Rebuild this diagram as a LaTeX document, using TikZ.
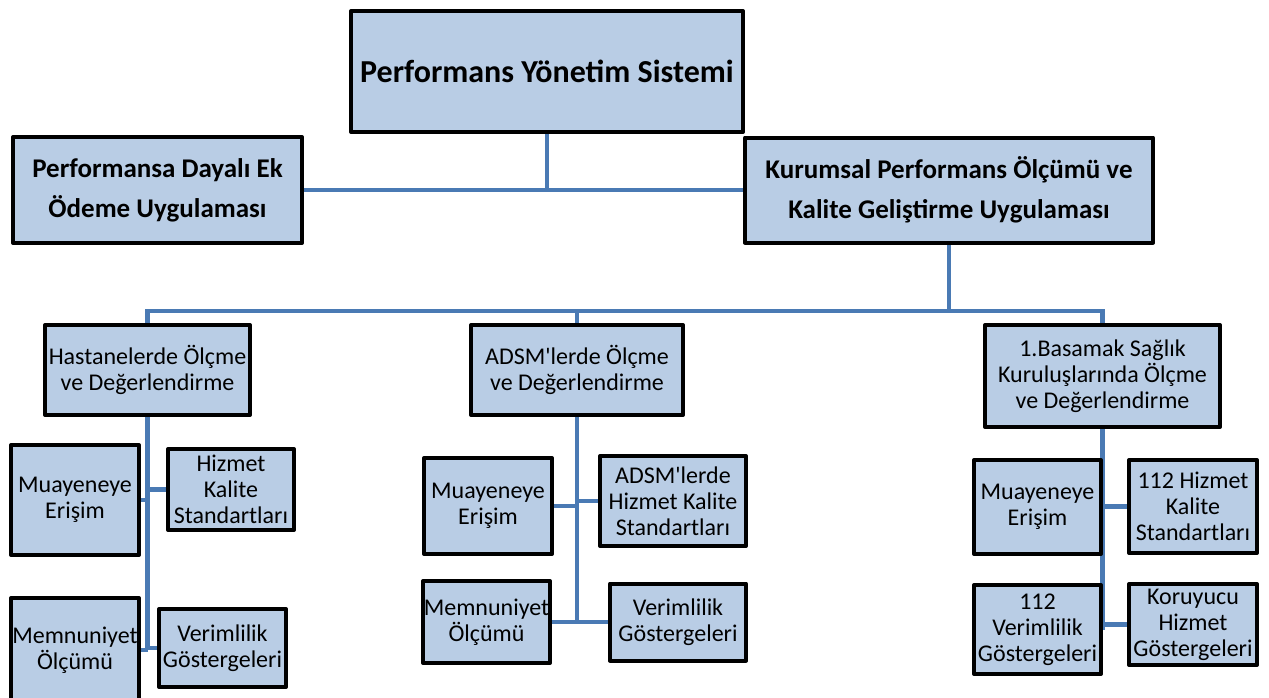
\documentclass[tikz,border=0pt]{standalone}
\usepackage{fontspec}
\setmainfont{Carlito}
\usepackage{tikz}
\usetikzlibrary{backgrounds}
\definecolor{boxfill}{RGB}{185,205,229}
\definecolor{linecolor}{RGB}{74,122,180}
\tikzset{
  bigbox/.style={draw=black, line width=2pt, fill=boxfill, align=center, inner sep=0pt,
    line join=round, font=\bfseries\fontsize{13.5}{20}\selectfont},
  subbox/.style={draw=black, line width=2pt, fill=boxfill, align=center, inner sep=0pt,
    line join=round, font=\fontsize{12}{13}\selectfont},
  conn/.style={draw=linecolor, line width=2.2pt},
}

\begin{document}
\begin{tikzpicture}[x=0.5pt, y=-0.5pt]
    \useasboundingbox (0,0) rectangle (1269,697);
    % top
    \node[bigbox, font=\bfseries\fontsize{16}{19}\selectfont, minimum width=196pt, minimum height=60.5pt] (sys) at (547,71.5) {Performans Yönetim Sistemi};
    \node[bigbox, minimum width=144.5pt, minimum height=53pt] (pay) at (157.5,190) {Performansa Dayalı Ek\\Ödeme Uygulaması};
    \node[bigbox, minimum width=204pt, minimum height=52.5pt] (kur) at (949,190) {Kurumsal Performans Ölçümü ve\\Kalite Geliştirme Uygulaması};
    % level 2
    \node[subbox, minimum width=102.5pt, minimum height=45pt] (hast) at (147.5,370) {Hastanelerde Ölçme\\ve Değerlendirme};
    \node[subbox, minimum width=106pt, minimum height=45pt] (adsm) at (577,370) {ADSM\textquotesingle lerde Ölçme\\ve Değerlendirme};
    \node[subbox, minimum width=117.5pt, minimum height=51pt] (ilk) at (1102.5,376) {1.Basamak Sağlık\\Kuruluşlarında Ölçme\\ve Değerlendirme};
    % level 3: hastaneler
    \node[subbox, minimum width=64pt, minimum height=55pt] (h1) at (75,500) {Muayeneye\\Erişim};
    \node[subbox, minimum width=63pt, minimum height=40.5pt] (h2) at (231,489.5) {Hizmet\\Kalite\\Standartları};
    \node[subbox, minimum width=64pt, minimum height=52pt] (h3) at (75,650) {Memnuniyet\\Ölçümü};
    \node[subbox, minimum width=63.5pt, minimum height=39pt] (h4) at (222.5,648) {Verimlilik\\Göstergeleri};
    % level 3: adsm
    \node[subbox, minimum width=64pt, minimum height=48pt] (a1) at (488,506) {Muayeneye\\Erişim};
    \node[subbox, minimum width=73pt, minimum height=45pt] (a2) at (673,501) {ADSM\textquotesingle lerde\\Hizmet Kalite\\Standartları};
    \node[subbox, minimum width=63.5pt, minimum height=41pt] (a3) at (486.5,622) {Memnuniyet\\Ölçümü};
    \node[subbox, minimum width=68pt, minimum height=38.5pt] (a4) at (678,622) {Verimlilik\\Göstergeleri};
    % level 3: 1. basamak
    \node[subbox, minimum width=63.5pt, minimum height=47pt] (i1) at (1037.5,507) {Muayeneye\\Erişim};
    \node[subbox, minimum width=64pt, minimum height=46.5pt] (i2) at (1193,506.5) {112 Hizmet\\Kalite\\Standartları};
    \node[subbox, minimum width=63.5pt, minimum height=44.5pt] (i3) at (1037.5,629.5) {112\\Verimlilik\\Göstergeleri};
    \node[subbox, minimum width=64pt, minimum height=40.5pt] (i4) at (1193,624.5) {Koruyucu\\Hizmet\\Göstergeleri};
    \coordinate (bus) at (949,311);
    \coordinate (hend) at (147.5,650);
    \coordinate (aend) at (577,622);
    \coordinate (iend) at (1102.5,630);
    % connectors
    \begin{scope}[on background layer]
      \draw[conn] (pay.east) -- (kur.west);
      \draw[conn] (sys.south) -- (sys.south |- kur.west);
      \draw[conn] (kur.south) -- (bus);
      \draw[conn] (hast.north) |- (bus) -| (ilk.north);
      \draw[conn] (adsm.north) -- (adsm.north |- bus);
      \draw[conn] (hast.south) -- (hend);
      \draw[conn] (h1.east) -- (h1.east -| hend);
      \draw[conn] (h2.west) -- (h2.west -| hend);
      \draw[conn] (h3.east) -- (h3.east -| hend);
      \draw[conn] (h4.west) -- (h4.west -| hend);
      \draw[conn] (adsm.south) -- (aend);
      \draw[conn] (a1.east) -- (a1.east -| aend);
      \draw[conn] (a2.west) -- (a2.west -| aend);
      \draw[conn] (a3.east) -- (a4.west);
      \draw[conn] (ilk.south) -- (iend);
      \draw[conn] (i2.west) -- (i2.west -| iend);
      \draw[conn] (i4.west) -- (i4.west -| iend);
    \end{scope}
  \end{tikzpicture}
\end{document}
